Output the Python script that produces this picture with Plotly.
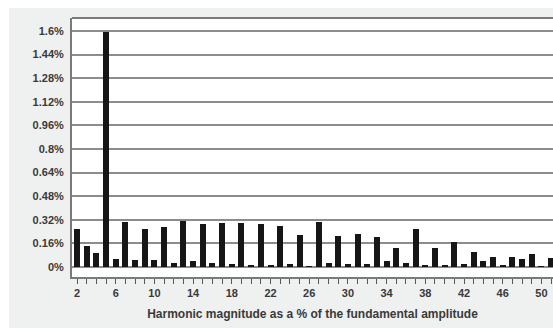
import plotly.graph_objects as go

harmonics = list(range(2, 52))
magnitudes = [
    0.258, 0.139, 0.098, 1.59, 0.057, 0.302, 0.050, 0.258, 0.050, 0.270,
    0.027, 0.309, 0.039, 0.290, 0.030, 0.297, 0.018, 0.300, 0.016, 0.290,
    0.009, 0.281, 0.023, 0.215, 0.005, 0.302, 0.030, 0.210, 0.023, 0.226,
    0.023, 0.203, 0.043, 0.126, 0.030, 0.256, 0.007, 0.126, 0.014, 0.169,
    0.023, 0.100, 0.043, 0.069, 0.016, 0.069, 0.057, 0.089, 0.004, 0.060,
]
y_tickvals = [0, 0.16, 0.32, 0.48, 0.64, 0.8, 0.96, 1.12, 1.28, 1.44, 1.6]
y_ticktext = ["0%", "0.16%", "0.32%", "0.48%", "0.64%", "0.8%", "0.96%",
              "1.12%", "1.28%", "1.44%", "1.6%"]
x_tickvals = list(range(2, 51, 4))
x_title = "Harmonic magnitude as a % of the fundamental amplitude"

W, H = 553, 332
L, T, B, R = 72, 18, 55, 0
pw, ph = W - L - R, H - T - B

def px_x(x):
    return (x - L) / pw

def px_y(y):
    return (H - B - y) / ph

fig = go.Figure(go.Bar(
    x=harmonics, y=magnitudes, width=0.62,
    marker=dict(color="#161616", line=dict(width=0)),
))

font = dict(family="Liberation Sans, Arial, sans-serif", size=11, color="#3a3a3a", weight="bold")
title_font = dict(font, size=12)

fig.update_layout(
    width=W, height=H,
    margin=dict(l=L, r=R, t=T, b=B, pad=0),
    paper_bgcolor="white",
    plot_bgcolor="white",
    showlegend=False,
    bargap=0,
    font=font,
    shapes=[
        dict(type="rect", xref="paper", yref="paper", layer="below",
             x0=px_x(9), x1=px_x(553), y0=px_y(328), y1=px_y(8),
             fillcolor="#eff0f0", line=dict(width=0)),
        dict(type="rect", xref="paper", yref="paper", layer="below",
             x0=0, x1=1, y0=0, y1=1,
             fillcolor="white", line=dict(width=0)),
        dict(type="line", xref="paper", yref="paper",
             x0=0, x1=1, y0=1, y1=1, line=dict(color="#7a7a7a", width=2)),
    ],
)

fig.update_xaxes(
    range=[1.48, 51.2],
    tickvals=x_tickvals,
    ticks="outside", ticklen=5, tickwidth=1, tickcolor="#555",
    minor=dict(tick0=2, dtick=1, ticks="outside", ticklen=5, tickwidth=1, tickcolor="#555"),
    showgrid=False, zeroline=False,
    showline=True, linecolor="#7a7a7a", linewidth=2,
    tickfont=font,
    title=dict(text=x_title, font=title_font, standoff=11),
)
fig.update_yaxes(
    range=[-0.068, 1.688],
    tickvals=y_tickvals, ticktext=y_ticktext,
    ticks="", showgrid=True, gridcolor="#8c8c8c", gridwidth=2,
    zeroline=False,
    showline=True, linecolor="#7a7a7a", linewidth=2,
    tickfont=font,
    ticklabelstandoff=4,
)

fig.write_html("out.html")
